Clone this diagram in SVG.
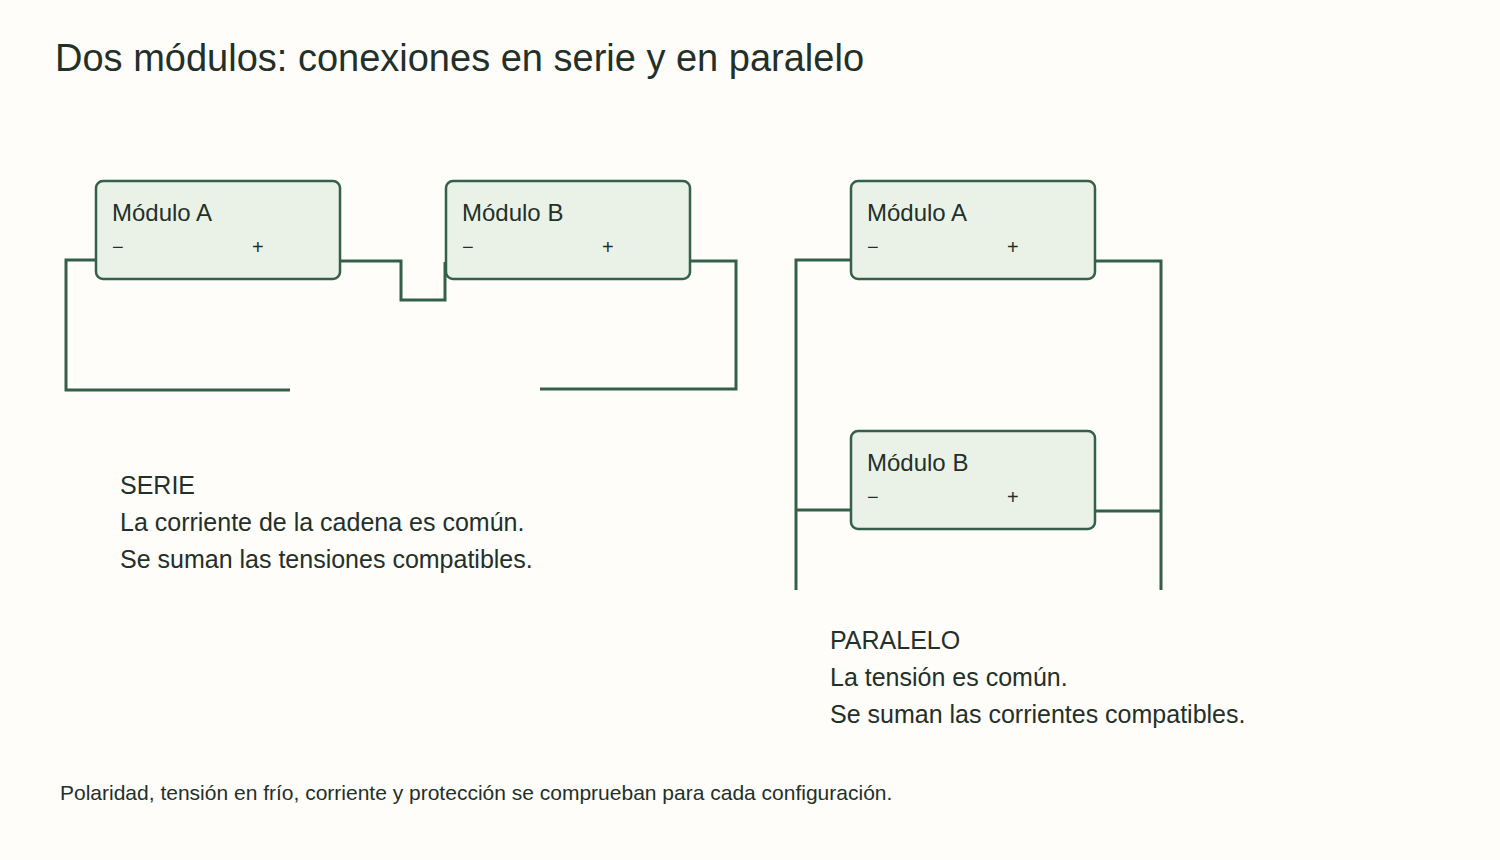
<svg xmlns="http://www.w3.org/2000/svg" width="1500" height="860" viewBox="0 0 1500 860">
<style>
text{font-family:"Liberation Sans",Arial,sans-serif;fill:#233029}
.box{fill:#eaf2e8;stroke:#345f48;stroke-width:2.5}
.w{fill:none;stroke:#345f48;stroke-width:3}
.n{font-size:24px}.p{font-size:20px}.b{font-size:25px}
</style>
<rect width="1500" height="860" fill="#fefdf9"/>
<text x="55" y="71" font-size="38">Dos módulos: conexiones en serie y en paralelo</text>
<g id="connectors">
<path class="w" d="M96,260 H66 V390 H290"/>
<path class="w" d="M340,261 H401 V300 H445 V262"/>
<path class="w" d="M690,261 H736 V389 H540"/>
<path class="w" d="M851,260 H796 V590"/>
<path class="w" d="M796,510 H851"/>
<path class="w" d="M1095,261 H1161 V590"/>
<path class="w" d="M1095,511 H1161"/>
</g>
<g id="serieA"><rect class="box" x="96" y="181" width="244" height="98" rx="7"/><text class="n" x="112" y="221">Módulo A</text><text class="p" x="112" y="254">−</text><text class="p" x="252" y="254">+</text></g>
<g id="serieB"><rect class="box" x="446" y="181" width="244" height="98" rx="7"/><text class="n" x="462" y="221">Módulo B</text><text class="p" x="462" y="254">−</text><text class="p" x="602" y="254">+</text></g>
<g id="parA"><rect class="box" x="851" y="181" width="244" height="98" rx="7"/><text class="n" x="867" y="221">Módulo A</text><text class="p" x="867" y="254">−</text><text class="p" x="1007" y="254">+</text></g>
<g id="parB"><rect class="box" x="851" y="431" width="244" height="98" rx="7"/><text class="n" x="867" y="471">Módulo B</text><text class="p" x="867" y="504">−</text><text class="p" x="1007" y="504">+</text></g>
<g id="serieText" class="b"><text x="120" y="494" font-size="25">SERIE</text><text x="120" y="531" font-size="25">La corriente de la cadena es común.</text><text x="120" y="568" font-size="25">Se suman las tensiones compatibles.</text></g>
<g id="parText"><text x="830" y="649" font-size="25">PARALELO</text><text x="830" y="686" font-size="25">La tensión es común.</text><text x="830" y="723" font-size="25">Se suman las corrientes compatibles.</text></g>
<text x="60" y="800" font-size="21">Polaridad, tensión en frío, corriente y protección se comprueban para cada configuración.</text>
</svg>
